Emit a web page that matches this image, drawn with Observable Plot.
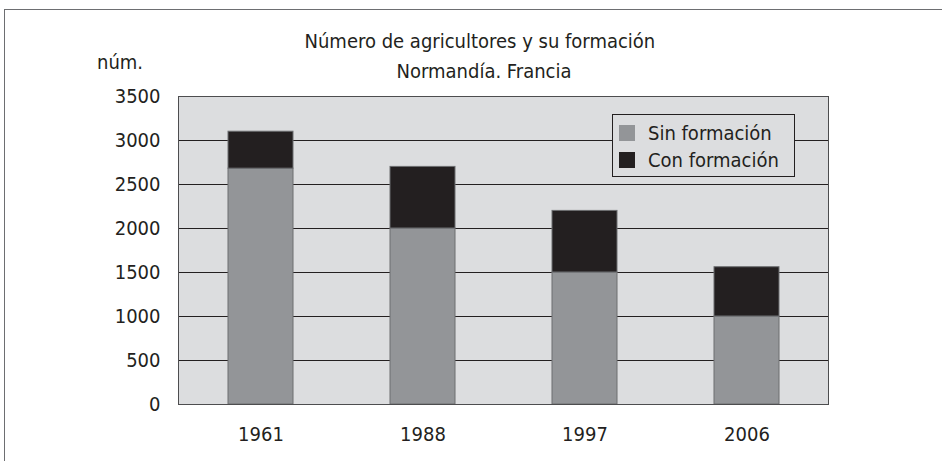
<!DOCTYPE html>
<html>
<head>
<meta charset="utf-8">
<script src="https://cdn.jsdelivr.net/npm/d3@7"></script>
<script src="https://cdn.jsdelivr.net/npm/@observablehq/plot@0.6"></script>
<style>
  html, body { margin: 0; padding: 0; background: #fff; }
  body { width: 942px; height: 461px; overflow: hidden; }
  #wrap { position: relative; width: 942px; height: 461px;
    font-family: "DejaVu Sans Condensed", "Liberation Sans", sans-serif; color: #231f20; }
  #border { position: absolute; left: 4px; top: 9px; right: -2px; bottom: -2px;
    border-left: 1px solid #6d6e71; border-top: 1px solid #6d6e71; }
  .txt { position: absolute; font-size: 20px; white-space: nowrap; line-height: 1; }
  #legend { position: absolute; left: 612px; top: 114px; width: 181px; height: 61px;
    border: 1px solid #231f20; background: #dcdddf; }
  .row { position: absolute; left: 6px; display: flex; align-items: center; font-size: 20px; line-height: 1; }
  .sw { width: 16px; height: 16px; margin-right: 13px; }
  svg { position: absolute; left: 0; top: 0; }
</style>
</head>
<body>
<div id="wrap">
  <div id="border"></div>
</div>
<script>
const years = ["1961", "1988", "1997", "2006"];
const sinFormacion = [2680, 2000, 1500, 1000];
const conFormacion = [420, 700, 700, 560];
const seriesNames = ["Sin formación", "Con formación"];
const seriesColors = ["#939598", "#231f20"];
const yTicks = [0, 500, 1000, 1500, 2000, 2500, 3000, 3500];
const gridTicks = [500, 1000, 1500, 2000, 2500, 3000];
const titleLines = ["Número de agricultores y su formación", "Normandía. Francia"];
const yLabel = "núm.";

const data = [];
years.forEach((y, i) => {
  data.push({year: y, serie: seriesNames[0], value: sinFormacion[i]});
  data.push({year: y, serie: seriesNames[1], value: conFormacion[i]});
});

const chart = Plot.plot({
  width: 942,
  height: 461,
  marginLeft: 178,
  marginRight: 114,
  marginTop: 96,
  marginBottom: 57,
  style: {fontFamily: '"DejaVu Sans Condensed", "Liberation Sans", sans-serif', fontSize: "20px", color: "#231f20", background: "transparent"},
  x: {domain: years, paddingInner: 0.6, paddingOuter: 0.3, label: null, tickSize: 0, tickPadding: 22},
  y: {domain: [0, 3500], ticks: yTicks, label: null, tickSize: 0, tickPadding: 18, tickFormat: d => String(d)},
  color: {domain: seriesNames, range: seriesColors},
  marks: [
    Plot.frame({fill: "#dcdddf", stroke: null}),
    Plot.ruleY(gridTicks, {stroke: "#231f20", strokeWidth: 1}),
    Plot.barY(data, Plot.stackY({x: "year", y: "value", fill: "serie", order: seriesNames, stroke: "#6d6e71", strokeWidth: 1})),
    Plot.frame({stroke: "#4d4d4f", strokeWidth: 1})
  ]
});
const wrap = document.getElementById("wrap");
wrap.appendChild(chart);

function addText(t, cx, cy) {
  const d = document.createElement("div");
  d.className = "txt";
  d.textContent = t;
  wrap.appendChild(d);
  const w = d.offsetWidth, h = d.offsetHeight;
  d.style.left = (cx - w / 2) + "px";
  d.style.top = (cy - h / 2) + "px";
}
addText(titleLines[0], 480, 41);
addText(titleLines[1], 484, 71);
addText(yLabel, 120, 62);

const leg = document.createElement("div");
leg.id = "legend";
seriesNames.forEach((n, i) => {
  const r = document.createElement("div");
  r.className = "row";
  r.style.top = (i === 0 ? 8 : 35) + "px";
  const sw = document.createElement("div");
  sw.className = "sw";
  sw.style.background = seriesColors[i];
  const s = document.createElement("span");
  s.textContent = n;
  r.appendChild(sw); r.appendChild(s);
  leg.appendChild(r);
});
wrap.appendChild(leg);
</script>
</body>
</html>
